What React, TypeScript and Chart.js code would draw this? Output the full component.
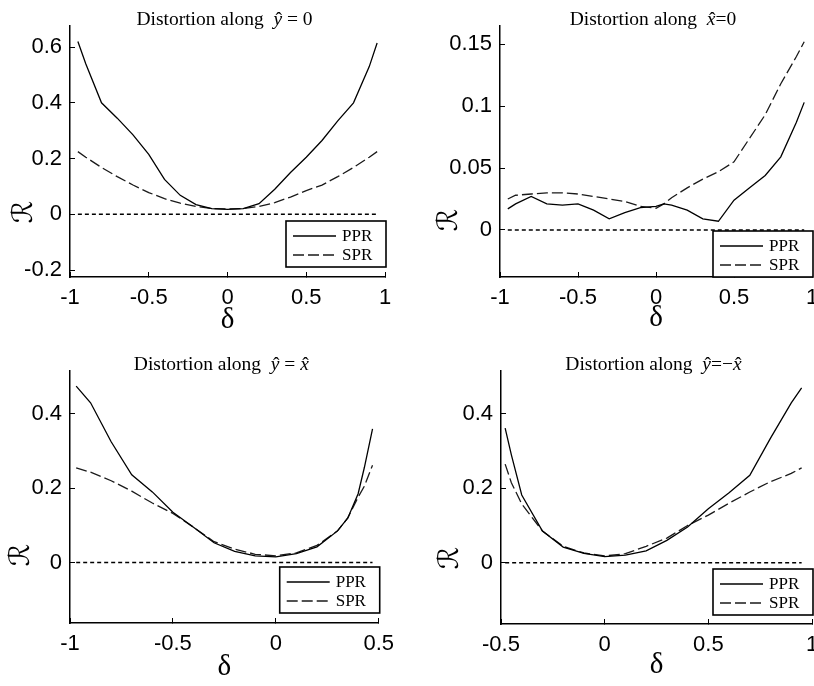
import React, { useEffect, useRef } from 'react';
import { Chart, registerables } from 'chart.js';

Chart.register(...registerables);

// Distortion ratio R against the displacement δ, for two reconstructions (PPR, SPR)

// along ŷ = 0
const DELTA_Y0 = [-0.95, -0.9, -0.8, -0.7, -0.6, -0.5, -0.4, -0.3, -0.2, -0.1, 0, 0.1, 0.2, 0.3, 0.4, 0.5, 0.6, 0.7, 0.8, 0.9, 0.95];
const PPR_Y0 = [0.62, 0.54, 0.4, 0.345, 0.285, 0.215, 0.125, 0.068, 0.035, 0.02, 0.018, 0.02, 0.038, 0.09, 0.15, 0.205, 0.265, 0.335, 0.4, 0.53, 0.615];
const SPR_Y0 = [0.225, 0.205, 0.168, 0.135, 0.105, 0.078, 0.056, 0.04, 0.028, 0.021, 0.019, 0.021, 0.028, 0.042, 0.062, 0.085, 0.105, 0.135, 0.168, 0.205, 0.225];

// along x̂ = 0
const DELTA_X0 = [-0.95, -0.9, -0.8, -0.7, -0.6, -0.5, -0.4, -0.3, -0.2, -0.1, 0, 0.05, 0.1, 0.2, 0.3, 0.4, 0.5, 0.6, 0.7, 0.8, 0.9, 0.95];
const PPR_X0 = [0.017, 0.021, 0.027, 0.021, 0.02, 0.021, 0.016, 0.009, 0.014, 0.018, 0.019, 0.021, 0.02, 0.016, 0.009, 0.007, 0.024, 0.034, 0.044, 0.059, 0.087, 0.103];
const SPR_X0 = [0.025, 0.028, 0.029, 0.03, 0.03, 0.029, 0.027, 0.025, 0.023, 0.019, 0.0175, 0.021, 0.026, 0.034, 0.041, 0.047, 0.055, 0.074, 0.093, 0.118, 0.14, 0.152];

// along ŷ = x̂
const DELTA_DIAG = [-0.97, -0.9, -0.8, -0.7, -0.6, -0.5, -0.4, -0.3, -0.2, -0.1, 0, 0.1, 0.2, 0.3, 0.35, 0.4, 0.43, 0.47];
const PPR_DIAG = [0.475, 0.43, 0.325, 0.236, 0.19, 0.135, 0.095, 0.053, 0.03, 0.018, 0.015, 0.024, 0.042, 0.085, 0.12, 0.185, 0.255, 0.36];
const SPR_DIAG = [0.255, 0.243, 0.22, 0.192, 0.16, 0.132, 0.095, 0.056, 0.036, 0.022, 0.018, 0.026, 0.046, 0.085, 0.12, 0.176, 0.205, 0.262];

// along ŷ = −x̂
const DELTA_ANTI = [-0.48, -0.45, -0.4, -0.3, -0.2, -0.1, 0, 0.1, 0.2, 0.3, 0.4, 0.5, 0.6, 0.7, 0.8, 0.9, 0.95];
const PPR_ANTI = [0.362, 0.29, 0.182, 0.085, 0.042, 0.025, 0.016, 0.02, 0.032, 0.06, 0.096, 0.145, 0.188, 0.235, 0.335, 0.43, 0.47];
const SPR_ANTI = [0.265, 0.215, 0.158, 0.085, 0.044, 0.026, 0.018, 0.024, 0.044, 0.066, 0.1, 0.128, 0.16, 0.19, 0.218, 0.24, 0.255];

const X_TICKS_Y0 = [-1, -0.5, 0, 0.5, 1];
const Y_TICKS_Y0 = [-0.2, 0, 0.2, 0.4, 0.6];
const X_TICKS_X0 = [-1, -0.5, 0, 0.5, 1];
const Y_TICKS_X0 = [0, 0.05, 0.1, 0.15];
const X_TICKS_DIAG = [-1, -0.5, 0, 0.5];
const Y_TICKS_DIAG = [0, 0.2, 0.4];
const X_TICKS_ANTI = [-0.5, 0, 0.5, 1];
const Y_TICKS_ANTI = [0, 0.2, 0.4];

const SERIES = ['PPR', 'SPR'];

type Seg = { text: string; italic?: boolean; hat?: boolean };

const TITLE_Y0: Seg[] = [{ text: 'Distortion along  ' }, { text: 'y', italic: true, hat: true }, { text: ' = 0' }];
const TITLE_X0: Seg[] = [{ text: 'Distortion along  ' }, { text: 'x', italic: true, hat: true }, { text: '=0' }];
const TITLE_DIAG: Seg[] = [{ text: 'Distortion along  ' }, { text: 'y', italic: true, hat: true }, { text: ' = ' }, { text: 'x', italic: true, hat: true }];
const TITLE_ANTI: Seg[] = [{ text: 'Distortion along  ' }, { text: 'y', italic: true, hat: true }, { text: '=\u2212' }, { text: 'x', italic: true, hat: true }];

const SERIF = '"Liberation Serif", "Times New Roman", serif';
const SANS = '"Liberation Sans", Arial, sans-serif';

const toPoints = (xs: number[], ys: number[]) => xs.map((x, i) => ({ x, y: ys[i] }));

// titles, rotated ℛ label and boxed legend
const decorPlugin = {
  id: 'decor',
  afterDraw(chart: any, _args: any, opts: any) {
    const ctx: CanvasRenderingContext2D = chart.ctx;
    const a = chart.chartArea;
    ctx.save();
    ctx.fillStyle = '#000';
    ctx.strokeStyle = '#000';

    // title
    const segs: Seg[] = opts.title || [];
    const fN = `19.5px ${SERIF}`;
    const fI = `italic 19.5px ${SERIF}`;
    const widths = segs.map((s) => {
      ctx.font = s.italic ? fI : fN;
      return ctx.measureText(s.text).width;
    });
    const total = widths.reduce((p, w) => p + w, 0);
    let tx = (a.left + a.right) / 2 - 3 - total / 2;
    const ty = a.top - 1;
    ctx.textBaseline = 'alphabetic';
    segs.forEach((s, i) => {
      ctx.font = s.italic ? fI : fN;
      ctx.textAlign = 'left';
      ctx.fillText(s.text, tx, ty);
      if (s.hat) {
        ctx.font = fN;
        ctx.textAlign = 'center';
        ctx.fillText('\u02C6', tx + widths[i] / 2 + 1, ty);
      }
      tx += widths[i];
    });

    // y axis label
    ctx.save();
    ctx.translate(a.left - opts.rOffset, a.top + (a.bottom - a.top) * opts.rFrac);
    ctx.rotate(-Math.PI / 2);
    ctx.font = `28px "DejaVu Serif", "DejaVu Sans", serif`;
    ctx.textAlign = 'center';
    ctx.textBaseline = 'middle';
    ctx.fillText('\u211B', 0, 0);
    ctx.restore();

    // legend
    const w = 100;
    const h = 46;
    const lx = a.right + 1 - w;
    const ly = a.bottom - opts.legendGap - h;
    ctx.fillStyle = '#fff';
    ctx.fillRect(lx, ly, w, h);
    ctx.lineWidth = 1.6;
    ctx.strokeStyle = '#000';
    ctx.strokeRect(lx, ly, w, h);
    ctx.fillStyle = '#000';
    const shown = chart.data.datasets.filter((d: any) => d.label);
    shown.forEach((d: any, i: number) => {
      const y = ly + 15 + i * 19;
      ctx.setLineDash(d.borderDash || []);
      ctx.lineWidth = d.borderWidth;
      ctx.strokeStyle = d.borderColor;
      ctx.beginPath();
      ctx.moveTo(lx + 7, y);
      ctx.lineTo(lx + 50, y);
      ctx.stroke();
      ctx.setLineDash([]);
      ctx.font = `17px ${SERIF}`;
      ctx.textAlign = 'left';
      ctx.textBaseline = 'middle';
      ctx.fillText(d.label, lx + 56, y + 1);
    });
    ctx.restore();
  },
};

type PanelProps = {
  left: number;
  top: number;
  width: number;
  height: number;
  area: { left: number; top: number; right: number; bottom: number };
  xMin: number;
  xMax: number;
  yMin: number;
  yMax: number;
  xTicks: number[];
  yTicks: number[];
  delta: number[];
  ppr: number[];
  spr: number[];
  title: Seg[];
  legendGap: number;
  rOffset: number;
  rFrac: number;
  deltaCenter: number;
};

function Panel(p: PanelProps) {
  const ref = useRef<HTMLCanvasElement | null>(null);
  useEffect(() => {
    if (!ref.current) return;
    const first = p.delta[0];
    const last = p.delta[p.delta.length - 1];
    const chart = new Chart(ref.current, {
      type: 'line',
      data: {
        datasets: [
          {
            label: '',
            data: [{ x: first, y: 0 }, { x: last, y: 0 }],
            borderColor: '#000',
            borderWidth: 1.5,
            borderDash: [4, 3],
            pointRadius: 0,
          },
          {
            label: SERIES[0],
            data: toPoints(p.delta, p.ppr),
            borderColor: '#000',
            borderWidth: 1.3,
            pointRadius: 0,
            tension: 0,
          },
          {
            label: SERIES[1],
            data: toPoints(p.delta, p.spr),
            borderColor: '#1a1a1a',
            borderWidth: 1.3,
            borderDash: [11, 4],
            pointRadius: 0,
            tension: 0,
          },
        ],
      },
      options: {
        responsive: false,
        animation: false,
        devicePixelRatio: 1,
        layout: { padding: { top: p.area.top, right: p.width - p.area.right, left: 0, bottom: 0 } },
        plugins: {
          legend: { display: false },
          tooltip: { enabled: false },
          decor: { title: p.title, legendGap: p.legendGap, rOffset: p.rOffset, rFrac: p.rFrac },
        } as any,
        scales: {
          x: {
            type: 'linear',
            min: p.xMin,
            max: p.xMax,
            afterBuildTicks: (s: any) => {
              s.ticks = p.xTicks.map((v) => ({ value: v }));
            },
            afterFit: (s: any) => {
              s.height = p.height - p.area.bottom;
            },
            ticks: {
              color: '#000',
              font: { family: SANS, size: 22 },
              padding: 13,
              maxRotation: 0,
              autoSkip: false,
              callback: (v: any) => String(v),
            },
            grid: { drawOnChartArea: false, drawTicks: true, tickLength: -5, color: '#000', lineWidth: 1 },
            border: { display: true, color: '#000', width: 1.5 },
            title: {
              display: true,
              text: '\u03B4',
              color: '#000',
              font: { family: SERIF, size: 29, lineHeight: 1 },
              padding: { top: 0, bottom: p.height - 14.5 - p.deltaCenter },
            },
          },
          y: {
            type: 'linear',
            min: p.yMin,
            max: p.yMax,
            afterBuildTicks: (s: any) => {
              s.ticks = p.yTicks.map((v) => ({ value: v }));
            },
            afterFit: (s: any) => {
              s.width = p.area.left;
            },
            ticks: {
              color: '#000',
              font: { family: SANS, size: 22 },
              padding: 13,
              autoSkip: false,
              callback: (v: any) => String(v),
            },
            grid: { drawOnChartArea: false, drawTicks: true, tickLength: -5, color: '#000', lineWidth: 1 },
            border: { display: true, color: '#000', width: 1.5 },
          },
        },
      } as any,
      plugins: [decorPlugin as any],
    });
    return () => chart.destroy();
  }, []);
  return (
    <canvas
      ref={ref}
      width={p.width}
      height={p.height}
      style={{ position: 'absolute', left: p.left, top: p.top, width: p.width, height: p.height }}
    />
  );
}

export default function App() {
  return (
    <div
      style={{
        position: 'absolute',
        left: 0,
        top: 0,
        width: 814,
        height: 686,
        overflow: 'hidden',
        background: '#fff',
      }}
    >
      <Panel
        left={0}
        top={0}
        width={407}
        height={345}
        area={{ left: 70, top: 25, right: 385, bottom: 277 }}
        xMin={-1}
        xMax={1}
        yMin={-0.225}
        yMax={0.675}
        xTicks={X_TICKS_Y0}
        yTicks={Y_TICKS_Y0}
        delta={DELTA_Y0}
        ppr={PPR_Y0}
        spr={SPR_Y0}
        title={TITLE_Y0}
        legendGap={10}
        rOffset={45}
        rFrac={0.742}
        deltaCenter={320}
      />
      <Panel
        left={407}
        top={0}
        width={430}
        height={345}
        area={{ left: 93, top: 25, right: 405, bottom: 277 }}
        xMin={-1}
        xMax={1}
        yMin={-0.038}
        yMax={0.1645}
        xTicks={X_TICKS_X0}
        yTicks={Y_TICKS_X0}
        delta={DELTA_X0}
        ppr={PPR_X0}
        spr={SPR_X0}
        title={TITLE_X0}
        legendGap={0}
        rOffset={50}
        rFrac={0.774}
        deltaCenter={318}
      />
      <Panel
        left={0}
        top={345}
        width={407}
        height={341}
        area={{ left: 70, top: 25, right: 385, bottom: 278 }}
        xMin={-1}
        xMax={0.5}
        yMin={-0.163}
        yMax={0.515}
        xTicks={X_TICKS_DIAG}
        yTicks={Y_TICKS_DIAG}
        delta={DELTA_DIAG}
        ppr={PPR_DIAG}
        spr={SPR_DIAG}
        title={TITLE_DIAG}
        legendGap={10}
        rOffset={48}
        rFrac={0.731}
        deltaCenter={322}
      />
      <Panel
        left={407}
        top={345}
        width={430}
        height={341}
        area={{ left: 94, top: 25, right: 405, bottom: 279 }}
        xMin={-0.5}
        xMax={1}
        yMin={-0.165}
        yMax={0.515}
        xTicks={X_TICKS_ANTI}
        yTicks={Y_TICKS_ANTI}
        delta={DELTA_ANTI}
        ppr={PPR_ANTI}
        spr={SPR_ANTI}
        title={TITLE_ANTI}
        legendGap={9}
        rOffset={50}
        rFrac={0.74}
        deltaCenter={320}
      />
    </div>
  );
}
